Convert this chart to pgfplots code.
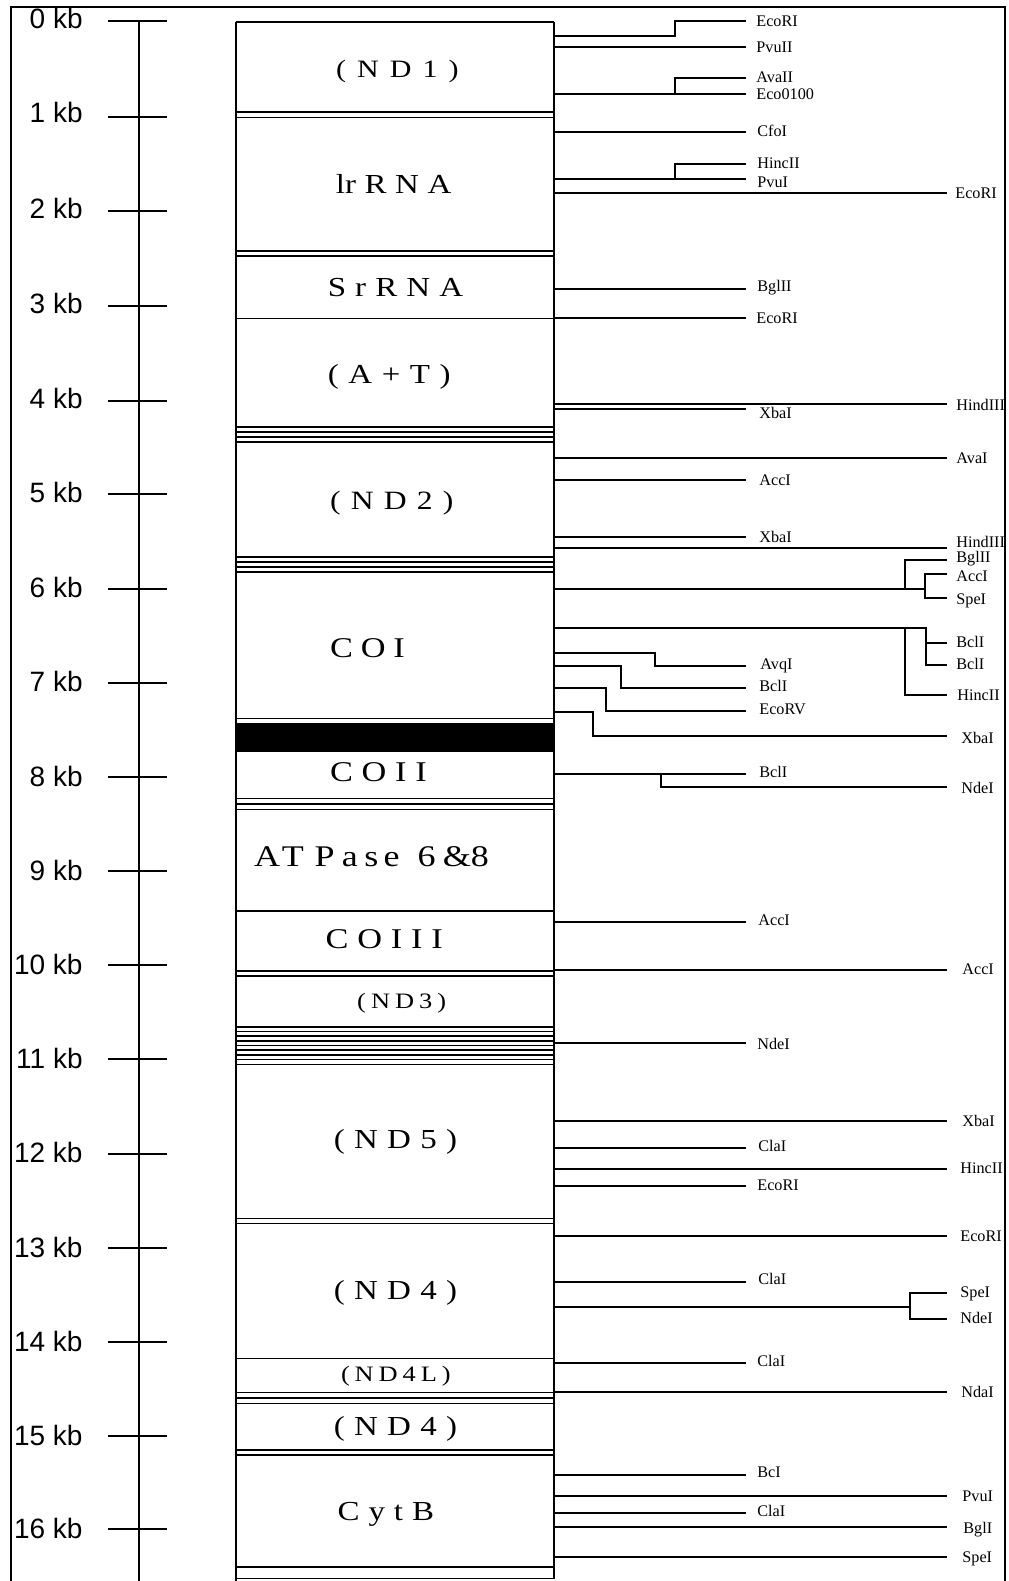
\documentclass[border=0pt]{standalone}
\usepackage{graphicx}
\usepackage{pgfplots}
\pgfplotsset{compat=1.18}
\usepackage{fontspec}
\setmainfont{Liberation Serif}
\newfontfamily\sansf{Liberation Sans}

% polyline (sites, frame, ruler)
\newcommand\seg[1]{\addplot[black,line width=1pt,mark=none] coordinates {#1};}
% gene-box horizontal line
\newcommand\bx[1]{\addplot[black,line width=0.8pt,mark=none] coordinates {(235.7,#1)(554,#1)};}
% ruler tick: y of tick, baseline of label, number
\newcommand\tk[3]{\addplot[black,line width=1pt,mark=none] coordinates {(108,#1)(166.8,#1)};
  \node[anchor=base east,inner sep=0pt,font=\sansf\fontsize{14}{14}\selectfont] at (axis cs:83,#2) {#3 kb};}
% enzyme label: x, baseline, text
\newcommand\en[3]{\node[anchor=base west,inner sep=0pt,font=\fontsize{8.1}{9}\selectfont] at (axis cs:#1,#2) {#3};}
% gene label: x centre, baseline, size(pt), gap(em), text   (text slightly widened)
\newcommand\gl[5]{\node[anchor=base,inner sep=0pt,font=\fontsize{#3}{#3}\selectfont] at (axis cs:#1,#2) {\scalebox{1.2}[1]{\def\s{\hspace{#4em}}#5}};}

\begin{document}
\begin{tikzpicture}
\begin{axis}[x=0.5pt, y=0.5pt, y dir=reverse,
  xmin=0, xmax=1008, ymin=0, ymax=1581,
  hide axis, clip=true]
\addplot[draw=none] coordinates {(0,0) (1008,1581)};

% outer frame
\seg{(10.7,1600)(10.7,6.7)(1005,6.7)(1005,1600)}
% ruler
\seg{(138.6,20.7)(138.6,1600)}
\tk{20.7}{28.5}{0}
\tk{116.7}{122.5}{1}
\tk{211.3}{218.5}{2}
\tk{305.7}{313}{3}
\tk{400.7}{408}{4}
\tk{494.3}{502}{5}
\tk{589}{597}{6}
\tk{682.7}{691}{7}
\tk{776.7}{786}{8}
\tk{871}{880}{9}
\tk{965}{974}{10}
\tk{1059.3}{1068}{11}
\tk{1154}{1162.5}{12}
\tk{1248.3}{1257}{13}
\tk{1342.3}{1351}{14}
\tk{1436}{1445}{15}
\tk{1529.3}{1538}{16}

% gene column: sides
\addplot[black,line width=0.8pt,mark=none] coordinates {(235.7,21.7)(235.7,1600)};
\seg{(554,21.7)(554,1579)}
% gene column: boundaries
\bx{21.7}
\bx{111.7}\bx{117.3}
\bx{250.7}\bx{256}
\bx{318.3}
\bx{426.7}\bx{431.7}\bx{436.7}\bx{441.7}
\bx{556.7}\bx{561.7}\bx{566.7}\bx{571.7}
\bx{718.3}
\addplot[black,fill=black,line width=0.8pt,mark=none] coordinates {(235.7,723.3)(554,723.3)(554,750.7)(235.7,750.7)(235.7,723.3)};
\bx{798.3}\bx{804}\bx{809.3}
\bx{910.7}
\bx{970.7}\bx{976}
\bx{1026.7}\bx{1031.4}\bx{1036.1}\bx{1040.8}\bx{1045.5}\bx{1050.2}\bx{1054.9}\bx{1059.6}\bx{1064.3}
\bx{1218.3}\bx{1223.3}
\bx{1358.3}
\bx{1392.3}\bx{1397.7}\bx{1403.3}
\bx{1450}\bx{1455}
\bx{1566.7}\bx{1578.3}

% gene labels
\gl{397.4}{77}{12.5}{0.37}{(\s N\s D\s 1\s )}
\gl{393.7}{193.3}{13.75}{0.26}{lr\s R\s N\s A}
\gl{395.5}{296.7}{13.75}{0.275}{S\s r\s R\s N\s A}
\gl{389.3}{383.3}{13.75}{0.29}{(\s A\s +\s T\s )}
\gl{391.8}{509}{13.2}{0.32}{(\s N\s D\s 2\s )}
\gl{367.5}{657.3}{14.3}{0.23}{C\s O\s I}
\gl{378.4}{781.7}{14.3}{0.255}{C\s O\s I\s I}
\gl{371.5}{866.7}{15}{0}{A\hspace{0.05em}T\hspace{0.3em}P\hspace{0.2em}a\hspace{0.18em}s\hspace{0.15em}e\hspace{0.5em}6\hspace{0.2em}\&8}
\gl{384.3}{948.3}{14.3}{0.257}{C\s O\s I\s I\s I}
\gl{401.7}{1008.3}{11}{0.19}{(\s N\s D\s 3\s )}
\gl{395.5}{1148.3}{13.75}{0.28}{(\s N\s D\s 5\s )}
\gl{395.5}{1299.3}{13.75}{0.28}{(\s N\s D\s 4\s )}
\gl{395.9}{1381.7}{11}{0.187}{(\s N\s D\s 4\s L\s )}
\gl{395.5}{1435.7}{13.75}{0.28}{(\s N\s D\s 4\s )}
\gl{385.8}{1520}{13.75}{0.27}{C\s y\s t\s B}

% restriction sites
\seg{(554,36)(675,36)(675,21)(746,21)}
\seg{(554,47.3)(746,47.3)}
\seg{(554,94)(746,94)}
\seg{(675,94)(675,78.3)(746,78.3)}
\seg{(554,131.7)(746,131.7)}
\seg{(554,179.3)(746,179.3)}
\seg{(675,179.3)(675,164)(746,164)}
\seg{(554,192.7)(947,192.7)}
\seg{(554,289.3)(746,289.3)}
\seg{(554,318.3)(746,318.3)}
\seg{(554,404)(947,404)}
\seg{(554,409.3)(746,409.3)}
\seg{(554,457.7)(947,457.7)}
\seg{(554,480)(746,480)}
\seg{(554,536.7)(746,536.7)}
\seg{(554,548.3)(947,548.3)}
\seg{(554,589.3)(925,589.3)}
\seg{(905,589.3)(905,560)(947,560)}
\seg{(947,574.3)(925,574.3)(925,598.3)(947,598.3)}
\seg{(554,628.3)(926,628.3)(926,665)(947,665)}
\seg{(926,642.7)(947,642.7)}
\seg{(905,628.3)(905,695)(947,695)}
\seg{(554,653.3)(655,653.3)(655,666)(746,666)}
\seg{(554,666)(620.7,666)(620.7,688.3)(746,688.3)}
\seg{(554,688.3)(605.7,688.3)(605.7,711)(746,711)}
\seg{(554,712.3)(593.3,712.3)(593.3,736)(947,736)}
\seg{(554,774.3)(746,774.3)}
\seg{(661,774.3)(661,787.3)(947,787.3)}
\seg{(554,921.7)(746,921.7)}
\seg{(554,970)(947,970)}
\seg{(554,1042.7)(746,1042.7)}
\seg{(554,1120.7)(947,1120.7)}
\seg{(554,1148.3)(746,1148.3)}
\seg{(554,1169.3)(947,1169.3)}
\seg{(554,1186)(746,1186)}
\seg{(554,1235.7)(947,1235.7)}
\seg{(554,1282.3)(746,1282.3)}
\seg{(554,1307.3)(910,1307.3)}
\seg{(947,1292.7)(910,1292.7)(910,1319.3)(947,1319.3)}
\seg{(554,1362.7)(746,1362.7)}
\seg{(554,1392.3)(947,1392.3)}
\seg{(554,1475)(746,1475)}
\seg{(554,1495.7)(947,1495.7)}
\seg{(554,1512.7)(746,1512.7)}
\seg{(554,1527.3)(947,1527.3)}
\seg{(554,1556.7)(947,1556.7)}

% enzyme labels
\en{756}{26.1}{EcoRI}
\en{756}{52.7}{PvuII}
\en{756}{82.7}{AvaII}
\en{756}{99.7}{Eco0100}
\en{757}{136.1}{CfoI}
\en{757}{168.7}{HincII}
\en{757}{187.7}{PvuI}
\en{955}{198.7}{EcoRI}
\en{757}{291.1}{BglII}
\en{756}{323.7}{EcoRI}
\en{956}{410.4}{HindIII}
\en{759}{418.7}{XbaI}
\en{956}{463.7}{AvaI}
\en{759}{485.4}{AccI}
\en{759}{542.1}{XbaI}
\en{956}{547.7}{HindIII}
\en{956}{562.7}{BglII}
\en{956}{581.1}{AccI}
\en{956}{604.4}{SpeI}
\en{956}{647.7}{BclI}
\en{956}{669.1}{BclI}
\en{760}{669.7}{AvqI}
\en{759}{691.4}{BclI}
\en{957}{700.4}{HincII}
\en{759}{714.7}{EcoRV}
\en{961}{743.1}{XbaI}
\en{759}{777.1}{BclI}
\en{961}{793.7}{NdeI}
\en{758}{925.4}{AccI}
\en{962}{974.4}{AccI}
\en{757}{1049.4}{NdeI}
\en{962}{1126.4}{XbaI}
\en{758}{1151.4}{ClaI}
\en{960}{1173.7}{HincII}
\en{757}{1190.4}{EcoRI}
\en{960}{1241.4}{EcoRI}
\en{758}{1284.4}{ClaI}
\en{960}{1297.1}{SpeI}
\en{960}{1323.7}{NdeI}
\en{757}{1366.1}{ClaI}
\en{961}{1397.7}{NdaI}
\en{757}{1477.7}{BcI}
\en{962}{1501.4}{PvuI}
\en{757}{1516.4}{ClaI}
\en{963}{1533.1}{BglI}
\en{962}{1562.1}{SpeI}
\end{axis}
\end{tikzpicture}
\end{document}
